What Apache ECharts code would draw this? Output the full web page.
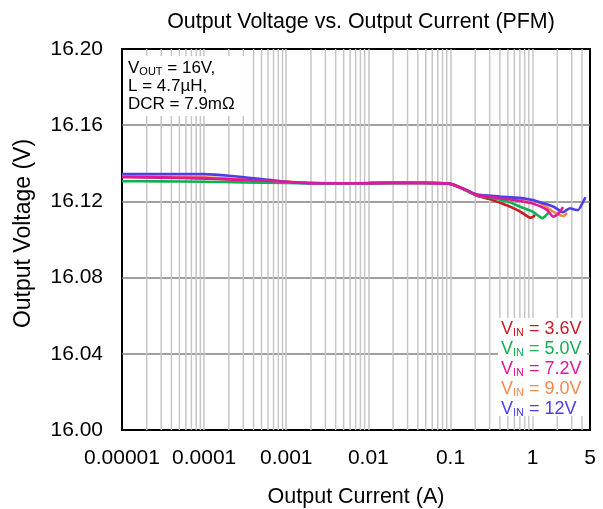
<!DOCTYPE html>
<html><head><meta charset="utf-8">
<script src="https://cdn.jsdelivr.net/npm/echarts@6/dist/echarts.min.js"></script>
<style>html,body{margin:0;padding:0;background:#fff}#c{width:603px;height:509px}</style>
</head><body><div id="c"></div>
<script>
// ---------- data ----------
const titleText = 'Output Voltage vs. Output Current (PFM)';
const xAxisName = 'Output Current (A)';
const yAxisName = 'Output Voltage (V)';
const xTickValues = [0.00001, 0.0001, 0.001, 0.01, 0.1, 1, 5];
const xTickLabels = ['0.00001', '0.0001', '0.001', '0.01', '0.1', '1', '5'];
const yMin = 16.00, yMax = 16.20, yStep = 0.04;

const headI = [0.00001, 0.00003, 0.0001, 0.0003, 0.001, 0.002, 0.005, 0.01, 0.03, 0.07, 0.1];

const redI = headI.concat([0.13, 0.17, 0.21, 0.3, 0.44, 0.6, 0.75, 0.93, 1.0, 1.07]);
const redV = [16.1328, 16.1325, 16.1320, 16.1312, 16.1302, 16.1296, 16.1295, 16.1296, 16.1297, 16.1295, 16.1291,
              16.1275, 16.1250, 16.1230, 16.1212, 16.1186, 16.1162, 16.1140, 16.1115, 16.1117, 16.1129];

const greenI = headI.concat([0.15, 0.21, 0.3, 0.5, 0.7, 1.0, 1.2, 1.31, 1.42, 1.55]);
const greenV = [16.1306, 16.1305, 16.1303, 16.1300, 16.1297, 16.1295, 16.1294, 16.1295, 16.1297, 16.1295, 16.1291,
                16.1260, 16.1230, 16.1220, 16.1199, 16.1172, 16.1146, 16.1122, 16.1112, 16.1122, 16.1140];

const magentaI = headI.concat([0.15, 0.21, 0.4, 0.7, 1.0, 1.3, 1.5, 1.78, 2.05, 2.35]);
const magentaV = [16.1328, 16.1326, 16.1322, 16.1313, 16.1303, 16.1296, 16.1295, 16.1296, 16.1298, 16.1296, 16.1292,
                  16.1262, 16.1233, 16.1218, 16.1202, 16.1189, 16.1170, 16.1155, 16.1120, 16.1135, 16.1170];

const orangeI = headI.concat([0.15, 0.21, 0.4, 0.7, 1.0, 1.25, 1.55, 1.78, 2.35, 2.63]);
const orangeV = [16.1333, 16.1330, 16.1327, 16.1316, 16.1304, 16.1297, 16.1295, 16.1296, 16.1298, 16.1296, 16.1292,
                 16.1263, 16.1234, 16.1223, 16.1213, 16.1205, 16.1190, 16.1165, 16.1146, 16.1123, 16.1139];

const blueI = [0.00001, 0.00003, 0.0001, 0.0002, 0.0005, 0.001, 0.002, 0.005, 0.01, 0.03, 0.07, 0.1,
               0.15, 0.21, 0.4, 0.6, 0.8, 1.0, 1.3, 1.8, 2.35, 2.6, 2.86, 3.2, 3.58, 4.12, 4.4];
const blueV = [16.1344, 16.1344, 16.1343, 16.1335, 16.1318, 16.1303, 16.1295, 16.1295, 16.1296, 16.1298, 16.1296, 16.1292,
               16.1263, 16.1236, 16.1226, 16.1220, 16.1215, 16.1207, 16.1192, 16.1172, 16.1143, 16.1155, 16.1164, 16.1158, 16.1155, 16.1198, 16.1222];

const seriesNames = ['3.6V', '5.0V', '7.2V', '9.0V', '12V'];
const seriesColors = ['#cc1a22', '#10b050', '#e0189c', '#f5894a', '#4b40e8'];
const seriesI = [redI, greenI, magentaI, orangeI, blueI];
const seriesV = [redV, greenV, magentaV, orangeV, blueV];
const drawOrder = [0, 1, 3, 4, 2];

const noteLines = [
  ['V', 'OUT', ' = 16V,'],
  ['L = 4.7µH,', '', ''],
  ['DCR = 7.9mΩ', '', '']
];

// ---------- helpers ----------
const FONT = 'Liberation Sans';
function xLabel(v) {
  for (let i = 0; i < xTickValues.length; i++) {
    if (Math.abs(Math.log10(v) - Math.log10(xTickValues[i])) < 1e-6) return xTickLabels[i];
  }
  return '';
}
// minor vertical gridlines (2..9 per decade), drawn as broken line segments
const minorGridData = [];
for (let n = -5; n <= 0; n++) {
  for (let k = 2; k <= 9; k++) {
    const v = k * Math.pow(10, n);
    if (v < 4.999) {
      minorGridData.push([v, yMin], [v, yMax], [v, '-']);
    }
  }
}

const series = [{
  type: 'line', name: 'grid', z: 1, silent: true, animation: false,
  showSymbol: false, symbol: 'none', connectNulls: false,
  lineStyle: { color: '#c6c6c6', width: 1.5 },
  data: minorGridData
}];
drawOrder.forEach((idx, j) => {
  series.push({
    name: seriesNames[idx],
    type: 'line',
    z: 3 + j,
    showSymbol: false,
    symbol: 'none',
    animation: false,
    smooth: 0.2,
    lineStyle: { color: seriesColors[idx], width: 2.6 },
    itemStyle: { color: seriesColors[idx] },
    data: seriesI[idx].map((x, i) => [x, seriesV[idx][i]])
  });
});

// annotation & legend graphics
const richBase = {
  m: { fontFamily: FONT, fontSize: 17, lineHeight: 20, verticalAlign: 'bottom' },
  s: { fontFamily: FONT, fontSize: 11, lineHeight: 8, verticalAlign: 'bottom' }
};
function richText(parts) {
  let t = '';
  if (parts[0]) t += '{m|' + parts[0] + '}';
  if (parts[1]) t += '{s|' + parts[1] + '}';
  if (parts[2]) t += '{m|' + parts[2] + '}';
  return t;
}
const graphics = [
  { type: 'rect', z: 10, shape: { x: 123, y: 56, width: 121, height: 60 }, style: { fill: '#fff' } },
  { type: 'rect', z: 10, shape: { x: 498, y: 318, width: 89, height: 98 }, style: { fill: '#fff' } }
];
noteLines.forEach((p, i) => {
  graphics.push({
    type: 'text', z: 11, x: 128, y: 67 + i * 18,
    style: { text: richText(p), fill: '#000', verticalAlign: 'middle', align: 'left', rich: richBase }
  });
});
seriesNames.forEach((nm, i) => {
  graphics.push({
    type: 'text', z: 11, x: 501, y: 328 + i * 20,
    style: {
      text: richText(['V', 'IN', ' = ' + nm]), fill: seriesColors[i], verticalAlign: 'middle', align: 'left',
      rich: {
        m: Object.assign({}, richBase.m, { fontSize: 18, color: seriesColors[i] }),
        s: Object.assign({}, richBase.s, { fontSize: 11, color: seriesColors[i] })
      }
    }
  });
});

const chart = echarts.init(document.getElementById('c'), null, { renderer: 'canvas' });
chart.setOption({
  animation: false,
  backgroundColor: '#fff',
  title: {
    text: titleText, left: 356, top: 7, textAlign: 'center',
    textStyle: { fontFamily: FONT, fontSize: 21.4, fontWeight: 'normal', color: '#000' }
  },
  grid: {
    left: 122, right: 13, top: 49, bottom: 79, show: true,
    outerBoundsMode: 'none', containLabel: false,
    borderColor: '#000', borderWidth: 2, backgroundColor: 'transparent'
  },
  xAxis: {
    type: 'log', logBase: 10, min: 0.00001, max: 5,
    name: xAxisName, nameLocation: 'middle', nameGap: 56,
    nameTextStyle: { fontFamily: FONT, fontSize: 21.5, color: '#000' },
    axisLine: { show: false }, axisTick: { show: false },
    axisLabel: {
      fontFamily: FONT, fontSize: 21, color: '#000', margin: 18,
      showMinLabel: true, showMaxLabel: true, formatter: xLabel
    },
    splitLine: { show: true, showMinLine: false, showMaxLine: false, lineStyle: { color: '#c6c6c6', width: 1.5 } }
  },
  yAxis: {
    type: 'value', min: yMin, max: yMax, interval: yStep,
    name: yAxisName, nameLocation: 'middle', nameGap: 87,
    nameTextStyle: { fontFamily: FONT, fontSize: 23, color: '#000', padding: [0, 0, 0, 12] },
    axisLine: { show: false }, axisTick: { show: false },
    axisLabel: {
      fontFamily: FONT, fontSize: 21, color: '#000', margin: 19,
      formatter: v => v.toFixed(2)
    },
    splitLine: { show: true, showMinLine: false, showMaxLine: false, lineStyle: { color: '#808080', width: 1.5 } }
  },
  graphic: graphics,
  series: series
});
</script></body></html>
